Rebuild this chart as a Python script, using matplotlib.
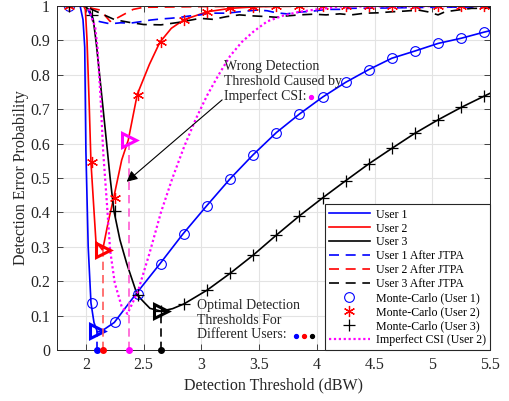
import matplotlib
matplotlib.use("Agg")
import matplotlib.pyplot as plt

plt.rcParams["font.family"] = ["Liberation Serif", "DejaVu Serif"]

# analytical curves
u1_x = [1.75, 1.95, 1.975, 1.99, 2.0, 2.02, 2.044, 2.07, 2.1, 2.15, 2.246, 2.434,
        2.64, 2.84, 3.046, 3.25, 3.45, 3.65, 3.85, 4.05, 4.25, 4.45, 4.65, 4.85,
        5.05, 5.25, 5.45, 5.5]
u1_y = [1.0, 1.0, 0.96, 0.88, 0.58, 0.3, 0.137, 0.08, 0.052, 0.058, 0.08, 0.163,
        0.25, 0.337, 0.419, 0.498, 0.568, 0.632, 0.686, 0.735, 0.778, 0.815, 0.848,
        0.869, 0.891, 0.906, 0.924, 0.928]

u2_x = [1.75, 1.98, 1.995, 2.01, 2.02, 2.03, 2.044, 2.087, 2.145, 2.194, 2.24,
        2.31, 2.367, 2.445, 2.55, 2.64, 2.74, 2.85, 3.05, 3.25, 3.45, 3.7, 5.5]
u2_y = [1.0, 1.0, 0.99, 0.9, 0.8, 0.7, 0.545, 0.315, 0.29, 0.373, 0.441,
        0.552, 0.61, 0.743, 0.83, 0.894, 0.935, 0.96, 0.983, 0.993, 0.997, 1.0, 1.0]

u3_x = [1.75, 1.99, 2.03, 2.064, 2.09, 2.12, 2.15, 2.18, 2.21, 2.243, 2.295,
        2.353, 2.445, 2.5, 2.555, 2.65, 2.75, 2.85, 3.05, 3.25, 3.45, 3.65, 3.85,
        4.05, 4.25, 4.45, 4.65, 4.85, 5.05, 5.25, 5.45, 5.5]
u3_y = [1.0, 1.0, 0.988, 0.96, 0.891, 0.795, 0.698, 0.6, 0.5, 0.404, 0.32,
        0.252, 0.16, 0.14, 0.121, 0.113, 0.12, 0.134, 0.174, 0.223, 0.276, 0.334,
        0.39, 0.442, 0.492, 0.541, 0.586, 0.63, 0.669, 0.705, 0.738, 0.746]

# after JTPA
j1_x = [1.75, 2.0, 2.04, 2.07, 2.125, 2.21, 2.3, 2.385, 2.47, 2.56, 2.645, 2.73,
        2.82, 2.9, 2.99, 3.07, 3.22, 3.33, 3.48, 3.57, 3.65, 3.74, 3.85, 3.97,
        4.08, 4.2, 4.28, 4.6, 5.0, 5.5]
j1_y = [1.0, 1.0, 0.974, 0.959, 0.954, 0.948, 0.951, 0.95, 0.954, 0.959, 0.962,
        0.964, 0.967, 0.971, 0.974, 0.979, 0.979, 0.983, 0.988, 0.986, 0.98,
        0.977, 0.982, 0.985, 0.99, 0.99, 0.993, 0.994, 0.996, 0.997]

j2_x = [1.75, 2.0, 2.053, 2.125, 2.21, 2.255, 2.327, 2.41, 2.5, 3.0, 4.0, 5.5]
j2_y = [1.0, 1.0, 0.993, 0.988, 0.955, 0.962, 0.975, 0.99, 0.996, 0.998, 0.999, 1.0]

j3_x = [1.75, 2.0, 2.05, 2.15, 2.25, 2.38, 2.5, 2.65, 2.8, 2.99, 3.1, 3.22, 3.33,
        3.45, 3.57, 3.65, 3.74, 3.85, 3.97, 4.08, 4.2, 4.3, 4.42, 4.53, 4.65,
        4.76, 4.88, 4.96, 5.05, 5.11, 5.22, 5.34, 5.455, 5.5]
j3_y = [1.0, 1.0, 0.99, 0.975, 0.96, 0.952, 0.946, 0.945, 0.952, 0.964, 0.961,
        0.969, 0.974, 0.971, 0.969, 0.967, 0.971, 0.974, 0.976, 0.974, 0.977,
        0.974, 0.979, 0.98, 0.983, 0.985, 0.988, 0.983, 0.974, 0.983, 0.988,
        0.993, 0.993, 0.994]

# imperfect CSI, user 2
csi_x = [1.75, 2.02, 2.05, 2.08, 2.1, 2.128, 2.15, 2.18, 2.21, 2.25, 2.31, 2.36,
         2.45, 2.55, 2.65, 2.75, 2.85, 2.95, 3.05, 3.15, 3.25, 3.35, 3.45, 3.57,
         3.71, 3.85, 4.0, 4.2, 5.5]
csi_y = [1.0, 1.0, 0.965, 0.94, 0.88, 0.727, 0.575, 0.436, 0.29, 0.195, 0.126,
         0.105, 0.17, 0.28, 0.4, 0.5, 0.59, 0.67, 0.74, 0.8, 0.855, 0.895, 0.925,
         0.955, 0.972, 0.983, 0.99, 0.998, 1.0]

# Monte-Carlo points
mc_x = [1.85, 2.05, 2.25, 2.45, 2.65, 2.85, 3.05, 3.25, 3.45, 3.65, 3.85, 4.05,
        4.25, 4.45, 4.65, 4.85, 5.05, 5.25, 5.45]
mc1 = [1.0, 0.137, 0.08, 0.163, 0.25, 0.337, 0.419, 0.498, 0.568, 0.632, 0.686,
       0.735, 0.778, 0.815, 0.848, 0.869, 0.891, 0.906, 0.924]
mc2 = [1.0, 0.545, 0.441, 0.742, 0.894, 0.96, 0.983, 0.993, 0.997, 0.999, 1.0,
       1.0, 1.0, 1.0, 1.0, 1.0, 1.0, 1.0, 1.0]
mc3 = [1.0, 0.975, 0.404, 0.16, 0.113, 0.134, 0.174, 0.223, 0.276, 0.334, 0.39,
       0.442, 0.492, 0.541, 0.586, 0.63, 0.669, 0.705, 0.738]

# detection thresholds: user 1, user 2, imperfect CSI (user 2), user 3
thr_x = [2.1, 2.15, 2.37, 2.65]
thr_y = [0.055, 0.29, 0.61, 0.113]
thr_col = ["#0000ff", "#ff0000", "#ff00ff", "#000000"]
thr_vcol = ["#0000ff", "#ff5a5a", "#ff5ad2", "#000000"]

fig = plt.figure(figsize=(5.10, 4.01), dpi=100)
ax = fig.add_axes([0.1118, 0.1272, 0.849, 0.858])

lw = 1.2
h1, = ax.plot(u1_x, u1_y, color="#0000ff", lw=lw, label="User 1")
h2, = ax.plot(u2_x, u2_y, color="#ff0000", lw=lw, label="User 2")
h3, = ax.plot(u3_x, u3_y, color="black", lw=lw, label="User 3")
hj1, = ax.plot(j1_x, j1_y, color="#0000ff", lw=lw, ls=(0, (6, 4)), label="User 1 After JTPA")
hj2, = ax.plot(j2_x, j2_y, color="#ff0000", lw=lw, ls=(0, (6, 4)), label="User 2 After JTPA")
hj3, = ax.plot(j3_x, j3_y, color="black", lw=lw, ls=(0, (6, 4)), label="User 3 After JTPA")
hm1, = ax.plot(mc_x, mc1, ls="none", marker="o", ms=7, mfc="none", mec="#0000ff",
               mew=0.8, label="Monte-Carlo (User 1)")
hm2, = ax.plot(mc_x, mc2, ls="none", marker=(6, 2, 0), ms=8, mec="#ff0000",
               mew=0.9, label="Monte-Carlo (User 2)")
hm3, = ax.plot(mc_x, mc3, ls="none", marker="+", ms=8, mec="black",
               mew=0.9, label="Monte-Carlo (User 3)")
hc, = ax.plot(csi_x, csi_y, color="#ff00ff", lw=1.6, ls=(0, (1, 1.2)),
              label="Imperfect CSI (User 2)")

for x, y, c, vc in zip(thr_x, thr_y, thr_col, thr_vcol):
    ax.plot([x, x], [0, y], color=vc, lw=1.2, ls=(0, (5, 3)))
    ax.plot([x], [y], marker=">", ms=10, mfc="none", mec=c, mew=2.2)
    ax.plot([x], [0], marker="o", ms=4, color=c, clip_on=False, zorder=5)

# annotations
ax.annotate("", xy=(2.353, 0.489), xytext=(3.18, 0.727),
            arrowprops=dict(arrowstyle="-|>", color="black", lw=0.8,
                            mutation_scale=16, shrinkA=0, shrinkB=0))
ax.text(3.2, 0.78, "Wrong Detection\nThreshold Caused by\nImperfect CSI:",
        fontsize=10.0, va="center", ha="left", linespacing=1.15, color="#262626")
ax.plot([3.946], [0.736], marker="o", ms=2.8, color="#ff00ff")
ax.text(2.96, 0.087, "Optimal Detection\nThresholds For\nDifferent Users:",
        fontsize=10.0, va="center", ha="left", linespacing=1.15, color="#262626")
for x, c in zip([3.819, 3.889, 3.958], ["#0000ff", "#ff0000", "black"]):
    ax.plot([x], [0.041], marker="o", ms=2.8, color=c)

ax.set_xlim(1.75, 5.5)
ax.set_ylim(0, 1)
ax.set_xticks([2, 2.5, 3, 3.5, 4, 4.5, 5, 5.5])
ax.set_xticklabels(["2", "2.5", "3", "3.5", "4", "4.5", "5", "5.5"])
ax.set_yticks([i / 10 for i in range(11)])
ax.set_yticklabels(["0", "0.1", "0.2", "0.3", "0.4", "0.5", "0.6", "0.7", "0.8", "0.9", "1"])
ax.tick_params(direction="in", top=True, right=True, length=4, width=0.6,
               labelsize=11.5, colors="#262626", pad=5)
ax.grid(True, color="#e3e3e3", lw=0.8)
ax.set_axisbelow(True)
for s in ax.spines.values():
    s.set_color("#262626")
    s.set_linewidth(0.7)
ax.set_xlabel("Detection Threshold (dBW)", fontsize=11.5, color="#262626", labelpad=3)
ax.set_ylabel("Detection Error Probability", fontsize=11.5, color="#262626", labelpad=1)

leg = ax.legend(handles=[h1, h2, h3, hj1, hj2, hj3, hm1, hm2, hm3, hc],
                loc="lower right", borderaxespad=0, fontsize=8.6, handlelength=3.4,
                labelspacing=0.16, handletextpad=0.5, borderpad=0.35,
                fancybox=False, framealpha=1, edgecolor="#262626")
leg.get_frame().set_linewidth(0.8)

fig.savefig("out.png", dpi=100)
